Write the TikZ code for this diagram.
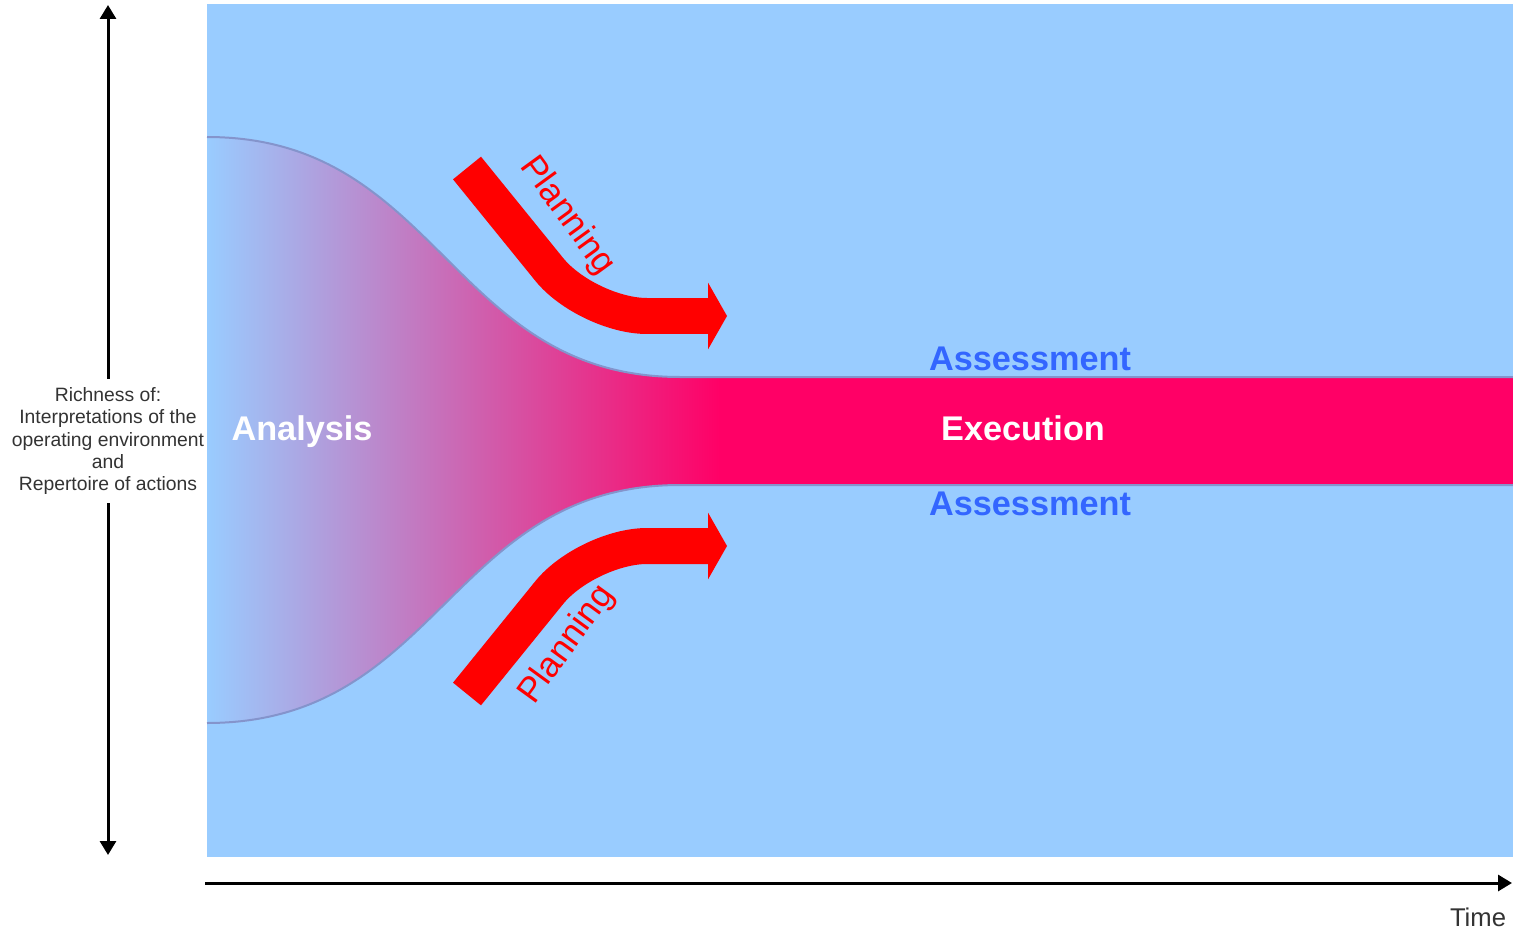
\documentclass[tikz,border=0pt]{standalone}
\usepackage{fontspec}
\setmainfont{Liberation Sans}
\usetikzlibrary{positioning,arrows.meta,calc}

\definecolor{skyback}{HTML}{99CCFF}
\definecolor{bandred}{HTML}{FF0066}
\definecolor{assessblue}{HTML}{3366FF}
\definecolor{edgeblue}{HTML}{8494CC}
\definecolor{planred}{HTML}{FF0000}
\definecolor{textgrey}{HTML}{333333}

\begin{document}
\begin{tikzpicture}[x=0.02cm,y=-0.02cm,
bigword/.style={
  font=\fontsize{19.5}{22}\selectfont\bfseries},
planword/.style={
  text=planred,
  font=\fontsize{20}{24}\selectfont},
axisline/.style={
  line width=0.06cm,
  -{Triangle[length=0.28cm,width=0.32cm]}},
planarrow/.style={
  planred,
  line width=0.72cm,
  rounded corners=1.2cm,
  -{Triangle[length=0.38cm,width=1.32cm]}},
funneledge/.style={
  draw=edgeblue,
  line width=0.04cm}
]
\useasboundingbox (0,0) rectangle (1513,929);
% background
\fill[skyback] (207,4) rectangle (1513,857);
% funnel with fading colour, then the band
\shade[left color=skyback,right color=bandred]
  (207,137) .. controls (440,137) and (450,377) .. (680,377) -- (720,377)
  -- (720,485) -- (680,485) .. controls (450,485) and (440,723) .. (207,723) -- cycle;
\fill[bandred] (719,377) rectangle (1513,485);
\draw[funneledge] (207,137) .. controls (440,137) and (450,377) .. (680,377) -- (1513,377);
\draw[funneledge] (207,723) .. controls (440,723) and (450,485) .. (680,485) -- (1513,485);
% planning arrows
\foreach \ya/\yb/\rot/\ly/\name in {168/316/-54/216/top, 694/546/54/645/bot}{
  \coordinate (tail\name) at (467,\ya);
  \coordinate (bend\name) at (587,\yb);
  \coordinate (tip\name) at (727,\yb);
  \draw[planarrow] (tail\name) -- (bend\name) -- (tip\name);
  \node[planword,rotate=\rot] (plan\name) at (567,\ly) {Planning};
}
% labels
\node[bigword,white,anchor=base] (analysis) at (302,440) {Analysis};
\node[bigword,white,anchor=base] (execution) at (1023,440) {Execution};
\node[bigword,assessblue,anchor=base] (assesstop) at (1030,370) {Assessment};
\node[bigword,assessblue,anchor=base] (assessbot) at (1030,515) {Assessment};
% axes
\node[fill=white,align=center,text=textgrey,
  font=\fontsize{11}{12.8}\selectfont,
  inner xsep=0pt,inner ysep=0.16cm] (richness) at (108,441)
  {Richness of:\\Interpretations of the\\operating environment\\and\\Repertoire of actions};
\coordinate (ytop) at (108,5);
\coordinate (ybot) at (108,855);
\draw[axisline] (richness.north) -- (ytop);
\draw[axisline] (richness.south) -- (ybot);
\coordinate (xstart) at (205,883);
\coordinate (xend) at (1512,883);
\draw[axisline] (xstart) -- (xend);
\node[anchor=base,text=textgrey,font=\fontsize{14.6}{17}\selectfont] (time) at (1478,926) {Time};
\end{tikzpicture}
\end{document}
